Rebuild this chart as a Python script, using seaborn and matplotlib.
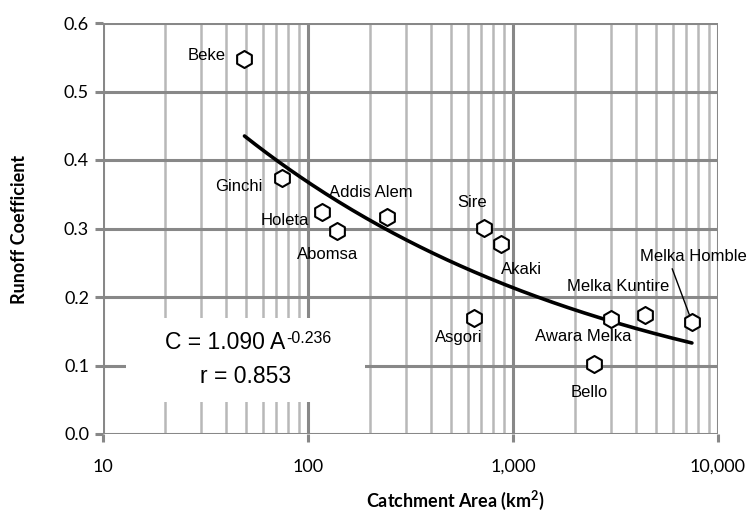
import numpy as np
import pandas as pd
import matplotlib
matplotlib.use("Agg")
import matplotlib.pyplot as plt
from matplotlib.patches import Rectangle
from matplotlib.ticker import FixedLocator, FuncFormatter
import seaborn as sns

# ---- data ----
stations = ["Beke", "Ginchi", "Holeta", "Abomsa", "Addis Alem", "Sire", "Akaki",
            "Asgori", "Awara Melka", "Bello", "Melka Kuntire", "Melka Homble"]
area_km2 = [49, 75, 117, 138, 243, 722, 874, 646, 3000, 2480, 4400, 7460]
runoff_coef = [0.547, 0.374, 0.324, 0.296, 0.317, 0.301, 0.277, 0.169, 0.168, 0.102, 0.174, 0.164]

fit_a = 1.090
fit_b = -0.236
fit_r = 0.853
fit_range = [49, 7460]

x_ticks = [10, 100, 1000, 10000]
x_ticklabels = ["10", "100", "1,000", "10,000"]
y_ticks = [0.0, 0.1, 0.2, 0.3, 0.4, 0.5, 0.6]

# label offsets (pixels) relative to marker
label_offsets = {
    "Beke": (-38, 4), "Ginchi": (-44, -9), "Holeta": (-37, -8), "Abomsa": (-9, -23),
    "Addis Alem": (-16, 24), "Sire": (-12, 25), "Akaki": (20, -25), "Asgori": (-15, -19),
    "Awara Melka": (-28, -18), "Bello": (-5, -28), "Melka Kuntire": (-27, 28),
    "Melka Homble": (1, 65),
}

df = pd.DataFrame({"station": stations, "area": area_km2, "coef": runoff_coef})
fit_x = np.logspace(np.log10(fit_range[0]), np.log10(fit_range[1]), 200)
fit_df = pd.DataFrame({"area": fit_x, "coef": fit_a * fit_x ** fit_b})

sns.set_theme(style="white")
plt.rcParams["font.family"] = ["Liberation Sans", "DejaVu Sans"]
plt.rcParams["text.color"] = "black"

fig = plt.figure(figsize=(7.55, 5.18), dpi=100)
ax = fig.add_axes([103 / 755, 1 - 434 / 518, 615 / 755, 411 / 518])

ax.set_xscale("log")
ax.set_xlim(10, 10000)
ax.set_ylim(0, 0.6)

major_grid = "#888888"
minor_grid = "#b8b8b8"
ax.xaxis.set_major_locator(FixedLocator(x_ticks))
ax.xaxis.set_minor_locator(FixedLocator([m * 10 ** e for e in range(1, 4) for m in range(2, 10)]))
ax.yaxis.set_major_locator(FixedLocator(y_ticks))
ax.grid(which="major", axis="both", color=major_grid, lw=2.2, zorder=0)
ax.grid(which="minor", axis="x", color=minor_grid, lw=1.8, zorder=0)
ax.set_axisbelow(True)
for s in ax.spines.values():
    s.set_visible(False)

ax.tick_params(axis="x", which="major", length=6, width=2.2, color=major_grid, bottom=True, pad=12)
ax.tick_params(axis="x", which="minor", length=0)
ax.tick_params(axis="y", which="major", length=6, width=2.2, color=major_grid, left=True, pad=4)
ax.set_xticks(x_ticks)
ax.set_xticklabels(x_ticklabels, fontfamily="Lato", fontsize=13, color="black")
ax.yaxis.set_major_formatter(FuncFormatter(lambda v, p: f"{v:.1f}"))
for lab in ax.get_yticklabels():
    lab.set_fontfamily("Lato")
    lab.set_fontsize(13)
    lab.set_color("black")

# white box behind equation
ax.add_patch(Rectangle((0.037, 0.078), 0.389, 0.204, transform=ax.transAxes,
                       facecolor="white", edgecolor="none", zorder=1))

sns.lineplot(data=fit_df, x="area", y="coef", ax=ax, color="black", lw=2.6, zorder=3)
sns.scatterplot(data=df, x="area", y="coef", ax=ax, marker="h", s=150,
                facecolor="white", edgecolor="black", linewidth=1.5, zorder=4)

label_fs = 12
for st, a, c in zip(stations, area_km2, runoff_coef):
    dx, dy = label_offsets[st]
    if st == "Melka Homble":
        ax.annotate(st, xy=(a, c), xytext=(dx, dy), textcoords="offset pixels",
                    ha="center", va="center", fontsize=label_fs, color="black",
                    arrowprops=dict(arrowstyle="-", color="black", lw=1.0,
                                    relpos=(0.29, 0.0), shrinkA=1, shrinkB=5), zorder=5)
    else:
        ax.annotate(st, xy=(a, c), xytext=(dx, dy), textcoords="offset pixels",
                    ha="center", va="center", fontsize=label_fs, color="black", zorder=5)

eq_main = ax.text(0.296, 0.223, f"C = {fit_a:.3f} A", transform=ax.transAxes,
                  ha="right", va="center", fontsize=16.5, color="black", zorder=5)
ax.annotate(f"{fit_b:.3f}", xy=(1.0, 1.0), xycoords=eq_main, xytext=(1, 0),
            textcoords="offset pixels", ha="left", va="top", fontsize=11.5,
            color="black", zorder=5)
ax.text(0.231, 0.140, f"r = {fit_r:.3f}", transform=ax.transAxes,
        ha="center", va="center", fontsize=16.5, color="black", zorder=5)

ax.set_xlabel("")
ax.set_ylabel("")
fig.text(455 / 755, 1 - 500 / 518, "Catchment Area (km$^\\mathregular{2}$)", ha="center", va="center",
         fontfamily="Lato", fontweight="bold", fontsize=13, color="black")
fig.text(20 / 755, 1 - 229 / 518, "Runoff Coefficient", ha="center", va="center",
         rotation=90, fontfamily="Lato", fontweight="bold", fontsize=13, color="black")

fig.savefig("out.png", dpi=100)
